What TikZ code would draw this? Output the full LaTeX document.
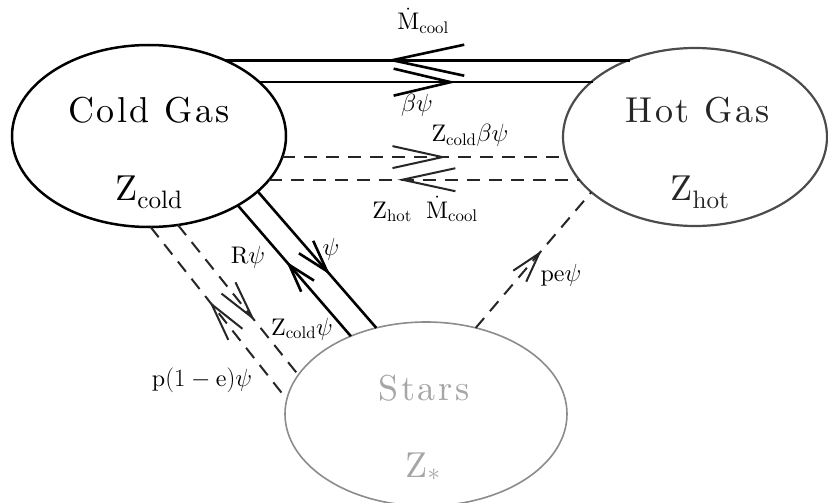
\documentclass[tikz,border=0pt]{standalone}
\usepackage{fontspec}
\setmainfont{lmroman10-regular.otf}
\usetikzlibrary{shapes.geometric,arrows.meta,decorations.markings}

\tikzset{
  blob/.style={ellipse, draw, inner sep=0pt, outer sep=0pt},
  title/.style={font={\fontsize{36}{40}\selectfont\addfontfeatures{LetterSpace=7}}, anchor=base, inner sep=0pt},
  lab/.style={font={\fontsize{24}{27}\selectfont}, anchor=base, inner sep=0pt},
  solidcon/.style={line width=2.6pt},
  dashcon/.style={line width=2pt, dash pattern=on 13pt off 9pt, draw=black!85},
  fwdarr/.style n args={3}{postaction={solid, decorate, decoration={markings,
      mark=at position #1 with {\arrow[solid]{Straight Barb[length=#2pt, width=#3pt]}}}}},
  bwdarr/.style n args={3}{postaction={solid, decorate, decoration={markings,
      mark=at position #1 with {\arrowreversed[solid]{Straight Barb[length=#2pt, width=#3pt]}}}}},
}

\begin{document}
\begin{tikzpicture}[x=1pt, y=-1pt]
\clip (0,0) rectangle (828,503);
\fill[white] (0,0) rectangle (828,503);

% ellipses
\node[blob, line width=2.5pt, minimum width=274pt, minimum height=182pt] (cold) at (149,136) {};
\node[blob, line width=2.2pt, draw=black!70, minimum width=264pt, minimum height=178pt] (hot) at (695,137) {};
\node[blob, line width=1.6pt, draw=black!45, minimum width=282pt, minimum height=184pt] (stars) at (426,414) {};

% titles
\node[title] (tcold) at (149,122) {Cold Gas};
\node[title] (zcold) at (149,200) {$\mathrm{Z}_{\mathrm{cold}}$};
\node[title, text=black!85] (thot) at (698,122) {Hot Gas};
\node[title, text=black!85] (zhot) at (700,200) {$\mathrm{Z}_{\mathrm{hot}}$};
\node[title, text=black!35] (tstars) at (424,400) {Stars};
\node[title, text=black!35] (zstars) at (423,477) {$\mathrm{Z}_{\ast}$};

% horizontal connectors
\draw[solidcon, bwdarr={0.398}{72}{31}] (cold.45.3) -- (cold.45.3 -| hot.130.7);
\draw[solidcon, fwdarr={0.59}{57}{27}] (cold.26.7) -- (cold.26.7 -| hot.151.4);
\draw[dashcon, fwdarr={0.58}{50}{22}] (cold.-9.85) -- (cold.-9.85 -| hot.189.76);
\draw[dashcon, bwdarr={0.413}{53}{23}] (cold.-20.7) -- (cold.-20.7 -| hot.201);

% diagonal connectors cold <-> stars
\draw[solidcon, fwdarr={0.61}{32}{19}] (cold.-27.2) -- (stars.120.3);
\draw[solidcon, bwdarr={0.43}{28}{17}] (cold.-38.4) -- (stars.134.6);
\draw[dashcon, bwdarr={0.43}{38}{18}] (cold.-89.4) -- (stars.174.3);
\draw[dashcon, fwdarr={0.64}{38}{18}] (cold.-72.3) -- (stars.163.2);

% stars -> hot
\draw[dashcon, fwdarr={0.57}{30}{17}] (stars.60.2) -- (hot.208.6);

% labels
\node[lab] (l1) at (423,30) {$\dot{\mathrm{M}}_{\mathrm{cool}}$};
\node[lab] (l2) at (417,112) {$\beta\psi$};
\node[lab] (l3) at (470,142) {$\mathrm{Z}_{\mathrm{cold}}\beta\psi$};
\node[lab] (l4) at (425,218) {$\mathrm{Z}_{\mathrm{hot}}\hspace{0.6em}\dot{\mathrm{M}}_{\mathrm{cool}}$};
\node[lab] (l5) at (331,255) {$\psi$};
\node[lab] (l6) at (248,263) {$\mathrm{R}\psi$};
\node[lab] (l7) at (302,335) {$\mathrm{Z}_{\mathrm{cold}}\psi$};
\node[lab] (l8) at (202,386) {$\mathrm{p}(1-\mathrm{e})\psi$};
\node[lab] (l9) at (561,281) {$\mathrm{pe}\psi$};
\end{tikzpicture}
\end{document}
